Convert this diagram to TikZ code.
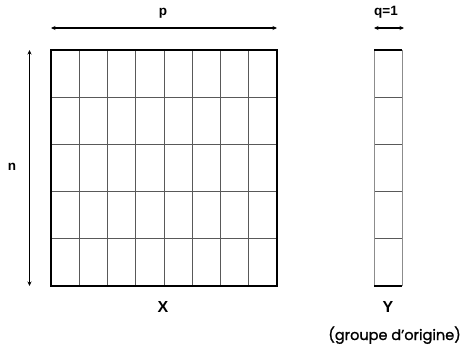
\documentclass[tikz,border=0pt]{standalone}
\usepackage{fontspec}
\setmainfont{Liberation Sans}
\newfontfamily\popfont[FakeBold=1.2]{Poppins}
\usetikzlibrary{arrows.meta}
\begin{document}
\begin{tikzpicture}[x=1pt,y=-1pt,
  dimarrow/.style={{Stealth[length=4.5pt,width=4pt]}-{Stealth[length=4.5pt,width=4pt]}, line width=1.1pt, black},
  gridline/.style={line width=0.8pt, black!65},
  border/.style={line width=1.6pt, black},
  smalllabel/.style={font=\bfseries\fontsize{13.5}{16}\selectfont, inner sep=0pt},
  biglabel/.style={font=\bfseries\fontsize{16}{18}\selectfont, inner sep=0pt}]
\useasboundingbox (0,0) rectangle (463,347);
% X grid
\foreach \i in {1,...,7} {\draw[gridline] (51+\i*28.25,50) -- (51+\i*28.25,286);}
\foreach \j in {1,...,4} {\draw[gridline] (51,50+\j*47.2) -- (277,50+\j*47.2);}
\draw[border] (51,50) rectangle (277,286);
% Y column
\foreach \j in {1,...,4} {\draw[gridline] (374,50+\j*47.2) -- (402,50+\j*47.2);}
\draw[gridline, black!45] (374,50) -- (374,286) (402,50) -- (402,286);
\draw[border] (374,50) -- (402,50);
\draw[border] (374,286) -- (402,286);
% dimension coordinates
\coordinate (pl) at (51,28); \coordinate (pr) at (277,28);
\coordinate (ql) at (374,28); \coordinate (qr) at (404,28);
\coordinate (nt) at (29.5,50); \coordinate (nb) at (29.5,286);
\draw[dimarrow] (pl) -- (pr);
\draw[dimarrow] (ql) -- (qr);
\draw[dimarrow] (nt) -- (nb);
\node[smalllabel] (p) at (163,13) {p};
\node[smalllabel] (q) at (386,12) {q=1};
\node[smalllabel] (n) at (12,167) {n};
\node[biglabel] (X) at (163,307) {X};
\node[biglabel] (Y) at (388,307) {Y};
\node[inner sep=0pt, anchor=base east, font=\popfont\fontsize{14.5}{18}\selectfont] (g) at (461,340) {(groupe d’origine)};
\end{tikzpicture}
\end{document}
